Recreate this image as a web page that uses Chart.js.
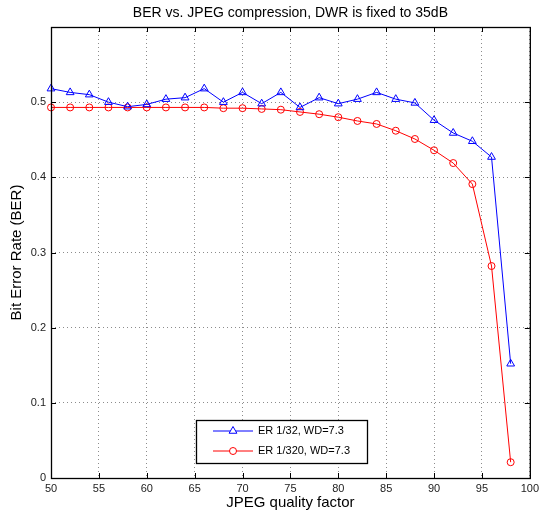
<!DOCTYPE html>
<html>
<head>
<meta charset="utf-8">
<script src="https://cdn.jsdelivr.net/npm/chart.js@4/dist/chart.umd.min.js"></script>
<style>
  html, body { margin: 0; padding: 0; background: #fff; }
  #wrap { width: 543px; height: 510px; }
</style>
</head>
<body>
<div id="wrap"><canvas id="berChart" width="543" height="510"></canvas></div>
<script>
// JPEG quality factors on the x axis
const quality = [50, 52, 54, 56, 58, 60, 62, 64, 66, 68, 70, 72, 74, 76, 78, 80, 82, 84, 86, 88, 90, 92, 94, 96, 98]

// BER, ER 1/32
const ber32 = [0.518, 0.513, 0.510, 0.500, 0.494, 0.497, 0.504, 0.506, 0.518, 0.500, 0.513, 0.498, 0.513,
  0.493, 0.506, 0.498, 0.504, 0.513, 0.504, 0.499, 0.476, 0.459, 0.448, 0.427, 0.152]

// BER, ER 1/320
const ber320 = [0.493, 0.493, 0.493, 0.493, 0.493, 0.493, 0.493, 0.493, 0.493, 0.492, 0.492, 0.491, 0.490,
  0.487, 0.484, 0.480, 0.475, 0.471, 0.462, 0.451, 0.436, 0.419, 0.391, 0.282, 0.021]

const seriesLabels = ['ER 1/32, WD=7.3', 'ER 1/320, WD=7.3']
const xTicks = [50, 55, 60, 65, 70, 75, 80, 85, 90, 95, 100]
const yTicks = [0, 0.1, 0.2, 0.3, 0.4, 0.5, 0.6]
const chartTitle = 'BER vs. JPEG compression, DWR is fixed to 35dB'

const FONT = '"Liberation Sans", Arial, Helvetica, sans-serif'
Chart.defaults.font.family = FONT
Chart.defaults.color = '#222'

// MATLAB style box, inward ticks, title over the axes and legend
const matlabBox = {
  id: 'matlabBox',
  afterDraw(chart) {
    const ctx = chart.ctx
    const a = chart.chartArea
    const xs = chart.scales.x
    const ys = chart.scales.y
    ctx.save()
    ctx.strokeStyle = '#000'
    ctx.lineWidth = 1
    xTicks.forEach(v => {
      const px = Math.round(xs.getPixelForValue(v)) + 0.5
      ctx.beginPath()
      ctx.moveTo(px, a.bottom); ctx.lineTo(px, a.bottom - 5)
      ctx.moveTo(px, a.top); ctx.lineTo(px, a.top + 5)
      ctx.stroke()
    })
    yTicks.forEach(v => {
      const py = Math.round(ys.getPixelForValue(v)) + 0.5
      ctx.beginPath()
      ctx.moveTo(a.left, py); ctx.lineTo(a.left + 5, py)
      ctx.moveTo(a.right, py); ctx.lineTo(a.right - 5, py)
      ctx.stroke()
    })
    ctx.lineWidth = 1.3
    ctx.strokeRect(a.left + 0.5, a.top + 0.5, a.right - a.left, a.bottom - a.top)

    // title, centred over the axes box
    ctx.fillStyle = '#000'
    ctx.font = '14px ' + FONT
    ctx.textAlign = 'center'
    ctx.textBaseline = 'middle'
    ctx.fillText(chartTitle, (a.left + a.right) / 2, 13)

    // legend
    const lx = 196, ly = 420, lw = 171, lh = 43
    ctx.fillStyle = '#fff'
    ctx.fillRect(lx, ly, lw, lh)
    ctx.strokeStyle = '#000'
    ctx.lineWidth = 1.3
    ctx.strokeRect(lx + 0.5, ly + 0.5, lw, lh)
    chart.data.datasets.forEach((ds, i) => {
      const y = ly + 11 + i * 20
      ctx.strokeStyle = ds.borderColor
      ctx.lineWidth = 1
      ctx.beginPath()
      ctx.moveTo(lx + 17, y); ctx.lineTo(lx + 57, y)
      ctx.stroke()
      ctx.fillStyle = '#fff'
      Chart.helpers.drawPoint(ctx, {
        pointStyle: ds.pointStyle, radius: ds.pointRadius, borderWidth: 1
      }, lx + 37, y)
      ctx.fillStyle = '#000'
      ctx.font = '11px ' + FONT
      ctx.textBaseline = 'middle'
      ctx.textAlign = 'left'
      ctx.fillText(ds.label, lx + 62, y)
    })
    ctx.restore()
  }
}

const data = {
  datasets: [{
    label: seriesLabels[0],
    data: quality.map((q, i) => ({ x: q, y: ber32[i] })),
    borderColor: '#0000ff',
    backgroundColor: 'rgba(0,0,0,0)',
    borderWidth: 1,
    pointStyle: 'triangle',
    pointRadius: 4.5,
    pointBorderWidth: 1,
    clip: false,
  }, {
    label: seriesLabels[1],
    data: quality.map((q, i) => ({ x: q, y: ber320[i] })),
    borderColor: '#ff0000',
    backgroundColor: 'rgba(0,0,0,0)',
    borderWidth: 1,
    pointStyle: 'circle',
    pointRadius: 3.5,
    pointBorderWidth: 1,
    clip: false,
  }]
}

const config = {
  type: 'line',
  data: data,
  options: {
    responsive: false,
    animation: false,
    layout: { padding: { left: 0, right: 13, top: 27, bottom: 0 } },
    plugins: {
      legend: { display: false },
      tooltip: { enabled: false },
      title: { display: false }
    },
    scales: {
      x: {
        type: 'linear',
        min: 50,
        max: 100,
        afterFit: s => { s.height = 32 },
        afterBuildTicks: s => { s.ticks = xTicks.map(v => ({ value: v })) },
        ticks: { font: { size: 11 }, padding: 4, maxRotation: 0 },
        grid: { color: 'rgba(0,0,0,0.45)', drawTicks: false },
        border: { display: false, dash: [1, 3] },
        title: {
          display: true,
          text: 'JPEG quality factor',
          font: { size: 15, lineHeight: 1 },
          color: '#000',
          padding: 0
        }
      },
      y: {
        min: 0,
        max: 0.6,
        afterFit: s => { s.width = 51 },
        afterBuildTicks: s => { s.ticks = yTicks.map(v => ({ value: v })) },
        ticks: {
          font: { size: 11 },
          padding: 5,
          callback: v => v > 0.55 ? '' : String(Math.round(v * 10) / 10)
        },
        grid: { color: 'rgba(0,0,0,0.45)', drawTicks: false },
        border: { display: false, dash: [1, 3] },
        title: {
          display: true,
          text: 'Bit Error Rate (BER)',
          font: { size: 15 },
          color: '#000',
          padding: { top: 8, bottom: 0 }
        }
      }
    }
  },
  plugins: [matlabBox]
}

const berChart = new Chart(document.getElementById('berChart'), config)
</script>
</body>
</html>
